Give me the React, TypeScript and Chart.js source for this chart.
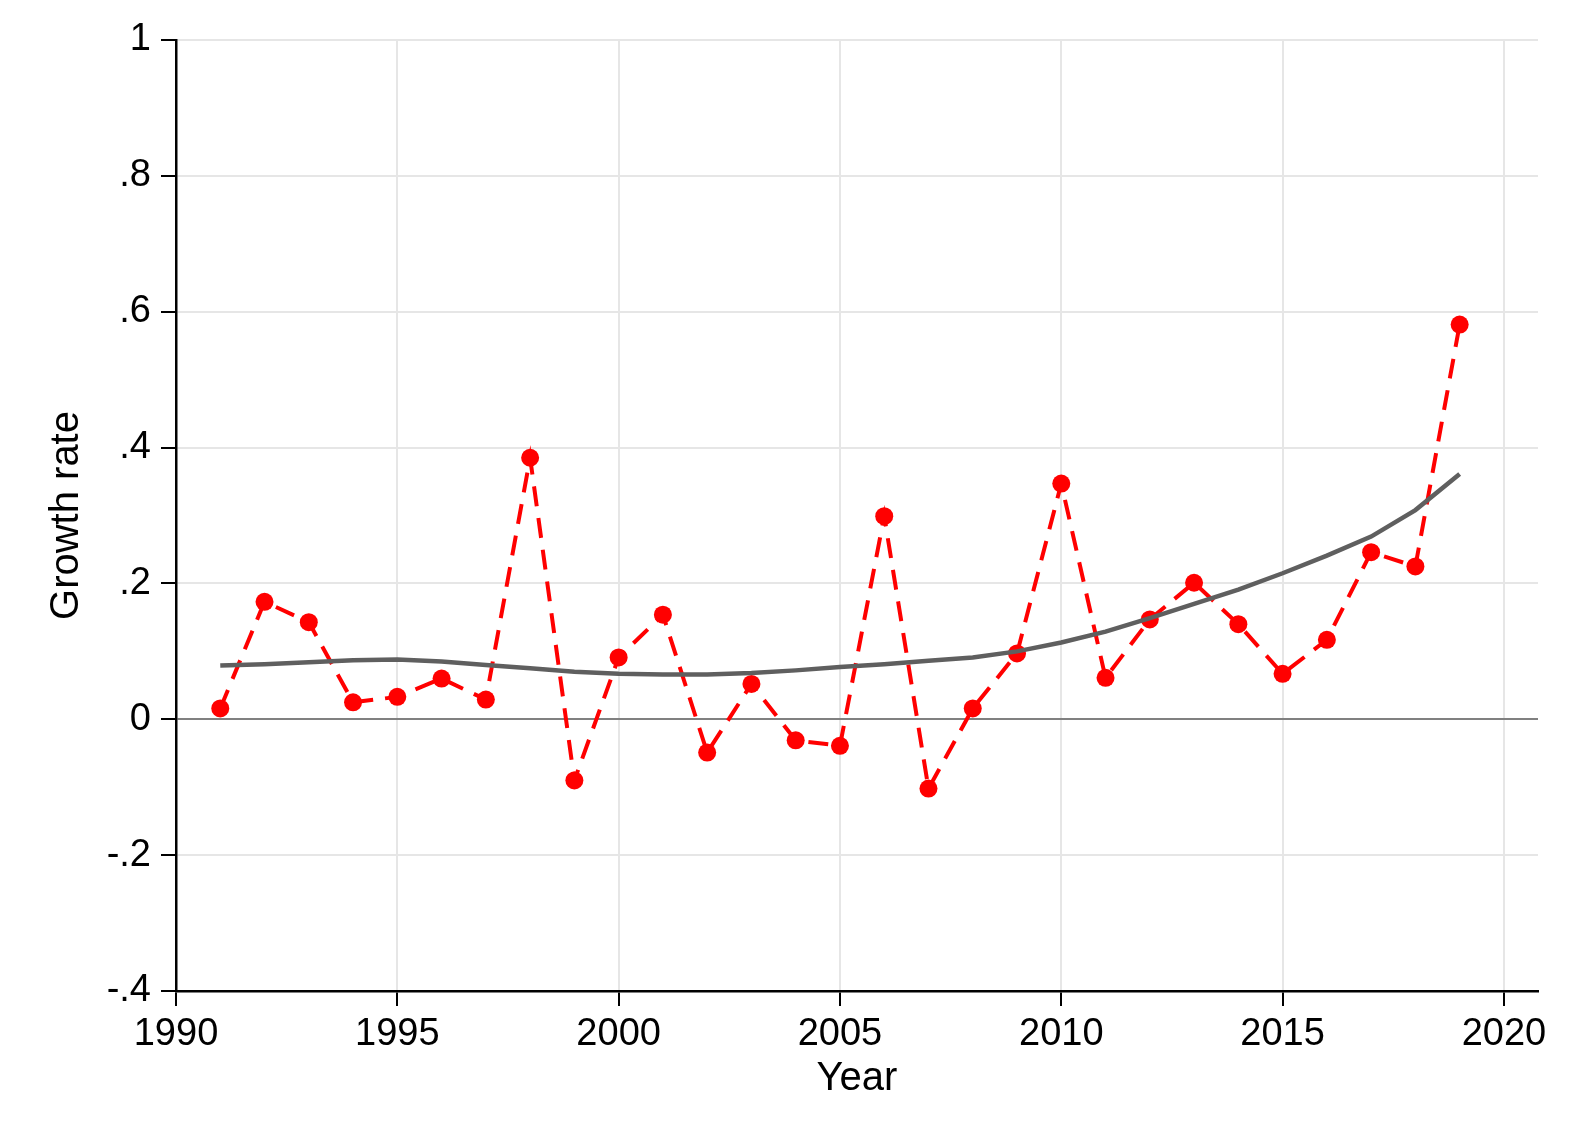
import React, { useEffect, useRef } from "react";
import { Chart, registerables } from "chart.js";

Chart.register(...registerables);

const years = [1991, 1992, 1993, 1994, 1995, 1996, 1997, 1998, 1999, 2000, 2001, 2002, 2003, 2004, 2005, 2006, 2007, 2008, 2009, 2010, 2011, 2012, 2013, 2014, 2015, 2016, 2017, 2018, 2019];

const growthRate = [0.016, 0.173, 0.143, 0.025, 0.033, 0.060, 0.029, 0.385, -0.090, 0.091, 0.154, -0.049, 0.052, -0.031, -0.039, 0.299, -0.102, 0.016, 0.097, 0.347, 0.061, 0.147, 0.201, 0.140, 0.067, 0.117, 0.246, 0.225, 0.581];

const smoothed = [0.079, 0.081, 0.084, 0.087, 0.088, 0.085, 0.080, 0.075, 0.070, 0.067, 0.066, 0.066, 0.068, 0.072, 0.077, 0.081, 0.086, 0.091, 0.100, 0.113, 0.129, 0.149, 0.170, 0.191, 0.215, 0.241, 0.269, 0.308, 0.361];

const xTicks = [1990, 1995, 2000, 2005, 2010, 2015, 2020];
const yTicks = [-0.4, -0.2, 0, 0.2, 0.4, 0.6, 0.8, 1];
const yTickLabels = ["-.4", "-.2", "0", ".2", ".4", ".6", ".8", "1"];

const FONT = "'Liberation Sans', Arial, Helvetica, sans-serif";

export default function App() {
  const ref = useRef<HTMLCanvasElement | null>(null);

  useEffect(() => {
    const canvas = ref.current;
    if (!canvas) return;
    const chart = new Chart(canvas, {
      type: "line",
      data: {
        datasets: [
          {
            label: "Smoothed",
            data: years.map((x, i) => ({ x, y: smoothed[i] })),
            borderColor: "#5f5f5f",
            borderWidth: 4.5,
            pointRadius: 0,
            tension: 0,
            fill: false,
            order: 0,
          },
          {
            label: "Growth rate",
            data: years.map((x, i) => ({ x, y: growthRate[i] })),
            borderColor: "#ff0000",
            backgroundColor: "#ff0000",
            borderWidth: 4,
            borderDash: [20, 12],
            pointRadius: 9,
            pointBorderWidth: 0,
            pointBackgroundColor: "#ff0000",
            tension: 0,
            fill: false,
            order: 1,
          },
        ],
      },
      options: {
        responsive: false,
        animation: false,
        devicePixelRatio: 1,
        layout: { padding: { top: 40, right: 40, left: 0, bottom: 0 } },
        plugins: {
          legend: { display: false },
          tooltip: { enabled: false },
        },
        scales: {
          x: {
            type: "linear",
            min: 1990,
            max: 2020.77,
            afterBuildTicks: (scale: any) => {
              scale.ticks = xTicks.map((v) => ({ value: v }));
            },
            afterFit: (scale: any) => {
              scale.height = 156;
            },
            ticks: {
              color: "#000",
              font: { family: FONT, size: 38 },
              padding: 6,
              maxRotation: 0,
              autoSkip: false,
              callback: (v: any) => String(v),
            },
            grid: {
              color: "#e6e6e6",
              lineWidth: 2,
              tickColor: "#000",
              tickLength: 15,
              tickWidth: 2,
            },
            border: { color: "#000", width: 2.5 },
            title: {
              display: true,
              text: "Year",
              color: "#000",
              font: { family: FONT, size: 40 },
              padding: { top: 0, bottom: 44 },
            },
          },
          y: {
            type: "linear",
            min: -0.4,
            max: 1,
            afterBuildTicks: (scale: any) => {
              scale.ticks = yTicks.map((v) => ({ value: v }));
            },
            afterFit: (scale: any) => {
              scale.width = 176;
            },
            ticks: {
              color: "#000",
              font: { family: FONT, size: 38 },
              padding: 10,
              autoSkip: false,
              callback: (v: any) => {
                const idx = yTicks.findIndex((t) => Math.abs(t - Number(v)) < 1e-9);
                return idx >= 0 ? yTickLabels[idx] : "";
              },
            },
            grid: {
              color: (ctx: any) =>
                ctx.tick && Math.abs(ctx.tick.value) < 1e-9 ? "#808080" : "#e6e6e6",
              lineWidth: 2,
              tickColor: "#000",
              tickLength: 15,
              tickWidth: 2,
            },
            border: { color: "#000", width: 2.5 },
            title: {
              display: true,
              text: "Growth rate",
              color: "#000",
              font: { family: FONT, size: 40 },
              padding: { top: 43, bottom: 0 },
            },
          },
        },
      },
    });
    return () => chart.destroy();
  }, []);

  return (
    <div style={{ position: "absolute", left: 0, top: 0, width: 1578, height: 1147, background: "#fff" }}>
      <canvas ref={ref} width={1578} height={1147} style={{ display: "block" }} />
    </div>
  );
}
